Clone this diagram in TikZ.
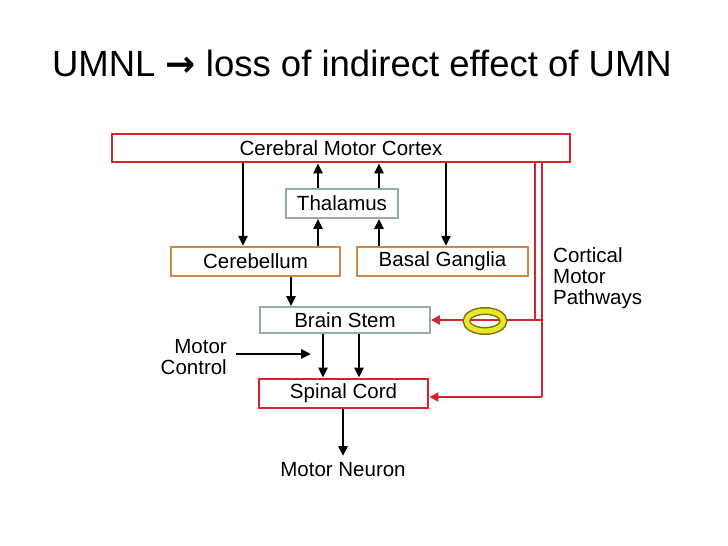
\documentclass[tikz,border=0pt]{standalone}
\usepackage{fontspec}
\setmainfont{Liberation Sans}
\newfontfamily\djv{DejaVu Sans}
\usetikzlibrary{arrows.meta,shapes.geometric}
\definecolor{cred}{RGB}{215,35,45}
\definecolor{corange}{RGB}{205,135,70}
\definecolor{cgray}{RGB}{150,172,172}
\definecolor{cyel}{RGB}{235,230,40}
\definecolor{colive}{RGB}{120,115,20}
\begin{document}
\begin{tikzpicture}[x=1pt,y=-1pt,
  box/.style={draw,rectangle,inner sep=0pt,font=\fontsize{20.5}{22}\selectfont,fill=white},
  redbox/.style={box,draw=cred,line width=2.8pt},
  orbox/.style={box,draw=corange,line width=2.2pt},
  grbox/.style={box,draw=cgray,line width=1.8pt},
  blk/.style={line width=2.8pt,-{Triangle[length=10pt,width=9pt]}},
  redl/.style={draw=cred,line width=2.8pt},
  reda/.style={redl,-{Triangle[length=9pt,width=9pt]}},
  lbl/.style={font=\fontsize{20.5}{21}\selectfont,inner sep=0pt}]
\useasboundingbox (0,0) rectangle (728,546);
\node[font=\fontsize{36.5}{40}\selectfont,inner sep=0pt] (title) at (362,63) {UMNL {\djv\bfseries\fontsize{36}{40}\selectfont →} loss of indirect effect of UMN};
\node[redbox,minimum width=458pt,minimum height=28pt] (cortex) at (341,148) {Cerebral Motor Cortex};
\node[grbox,minimum width=112pt,minimum height=29pt] (thal) at (342,203.5) {Thalamus};
\node[orbox,minimum width=169pt,minimum height=29pt] (cereb) at (255.5,261.5) {Cerebellum};
\node[orbox,minimum width=171pt,minimum height=29pt] (basal) at (442.5,261.5) {Basal Ganglia};
\node[grbox,minimum width=170pt,minimum height=26pt] (stem) at (345,320) {Brain Stem};
\node[redbox,minimum width=169pt,minimum height=29pt] (spinal) at (343.5,393.5) {Spinal Cord};
\node[lbl] (neuron) at (343,470) {Motor Neuron};
\node[lbl,align=right,anchor=east] (control) at (227,357) {Motor\\Control};
\node[lbl,align=left,anchor=west] (cmp) at (553,278) {Cortical\\Motor\\Pathways};
\coordinate (mc) at (236,354);
\coordinate (mcend) at (311,354);
% black arrows
\draw[blk] (cortex.south -| 243,0) -- (cereb.north -| 243,0);
\draw[blk] (cortex.south -| 446,0) -- (basal.north -| 446,0);
\draw[blk] (thal.north -| 318,0) -- (cortex.south -| 318,0);
\draw[blk] (thal.north -| 379,0) -- (cortex.south -| 379,0);
\draw[blk] (cereb.north -| 318,0) -- (thal.south -| 318,0);
\draw[blk] (basal.north -| 379,0) -- (thal.south -| 379,0);
\draw[blk] (cereb.south -| 291,0) -- (stem.north -| 291,0);
\draw[blk] (stem.south -| 323,0) -- (spinal.north -| 323,0);
\draw[blk] (stem.south -| 359,0) -- (spinal.north -| 359,0);
\draw[blk] (mc) -- (mcend);
\draw[blk] (spinal.south -| 343,0) -- (343,456);
% red pathways
\coordinate (j1) at (535,320);
\coordinate (j2) at (542,320);
\coordinate (j3) at (542,397);
\draw[redl] (cortex.south -| j1) -- (j1);
\draw[redl] (cortex.south -| j2) -- (j3);
\draw[reda] (j2) -- (stem.east);
\draw[reda] (j3) -- (spinal.east |- j3);
% yellow ring
\coordinate (ring) at (485,321);
\draw[colive,line width=8pt] (ring) ellipse [x radius=18.5pt,y radius=10pt];
\draw[cyel,line width=5pt] (ring) ellipse [x radius=18.5pt,y radius=10pt];
\end{tikzpicture}
\end{document}
